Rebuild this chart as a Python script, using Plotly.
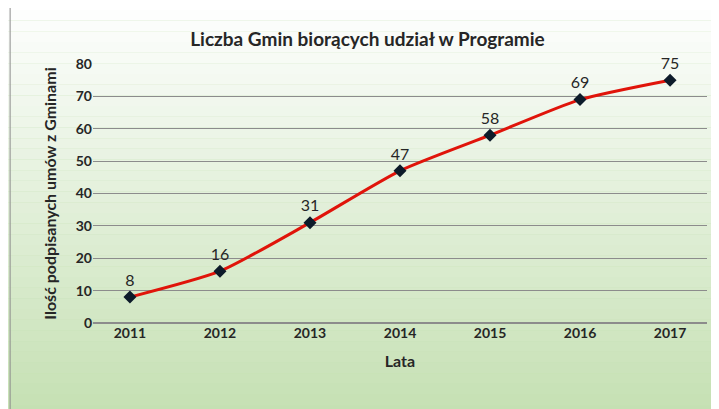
import plotly.graph_objects as go

years = ["2011", "2012", "2013", "2014", "2015", "2016", "2017"]
counts = [8, 16, 31, 47, 58, 69, 75]

fig = go.Figure()
fig.add_trace(go.Scatter(
    x=years, y=counts, mode="lines+markers+text",
    text=[str(v) for v in counts], textposition="top center",
    textfont=dict(size=16, color="#262626"),
    line=dict(color="#e0140a", width=3, shape="spline", smoothing=0.6),
    marker=dict(symbol="diamond", size=10, color="#0d1b2a"),
    cliponaxis=False, showlegend=False,
))

# gradient background: white at top to light green at bottom
shapes = []
n = 40
for i in range(n):
    t = i / (n - 1)
    r = int(255 - (255 - 196) * t)
    g = int(255 - (255 - 224) * t)
    b = int(255 - (255 - 178) * t)
    shapes.append(dict(type="rect", xref="paper", yref="paper", layer="below",
                       x0=-0.2, x1=1.1, y0=1.25 - (i + 1) * 1.65 / n, y1=1.25 - i * 1.65 / n,
                       line=dict(width=0), fillcolor=f"rgb({r},{g},{b})"))
shapes.append(dict(type="rect", xref="paper", yref="paper", x0=-0.135, x1=1.03,
                   y0=-0.335, y1=1.22, line=dict(color="#8c8c8c", width=1)))

fig.update_layout(
    width=719, height=409,
    margin=dict(l=85, r=20, t=56, b=94),
    paper_bgcolor="#c4e0b2", plot_bgcolor="rgba(0,0,0,0)",
    font=dict(family="Lato, Open Sans, sans-serif", color="#262626"),
    title=dict(text="<b>Liczba Gmin biorących udział w Programie</b>", x=0.5, xanchor="center",
               y=0.94, font=dict(size=19, color="#262626")),
    shapes=shapes,
    xaxis=dict(showgrid=False, showline=False, tickfont=dict(size=14, weight="bold"),
               title=dict(text="<b>Lata</b>", font=dict(size=16))),
    yaxis=dict(range=[0, 80], dtick=10, gridcolor="#8c8c8c", gridwidth=1,
               zeroline=True, zerolinecolor="#8c8c8c", tickfont=dict(size=14, weight="bold"),
               title=dict(text="<b>Ilość podpisanych umów z Gminami</b>", font=dict(size=16))),
)
fig.write_html("out.html")
